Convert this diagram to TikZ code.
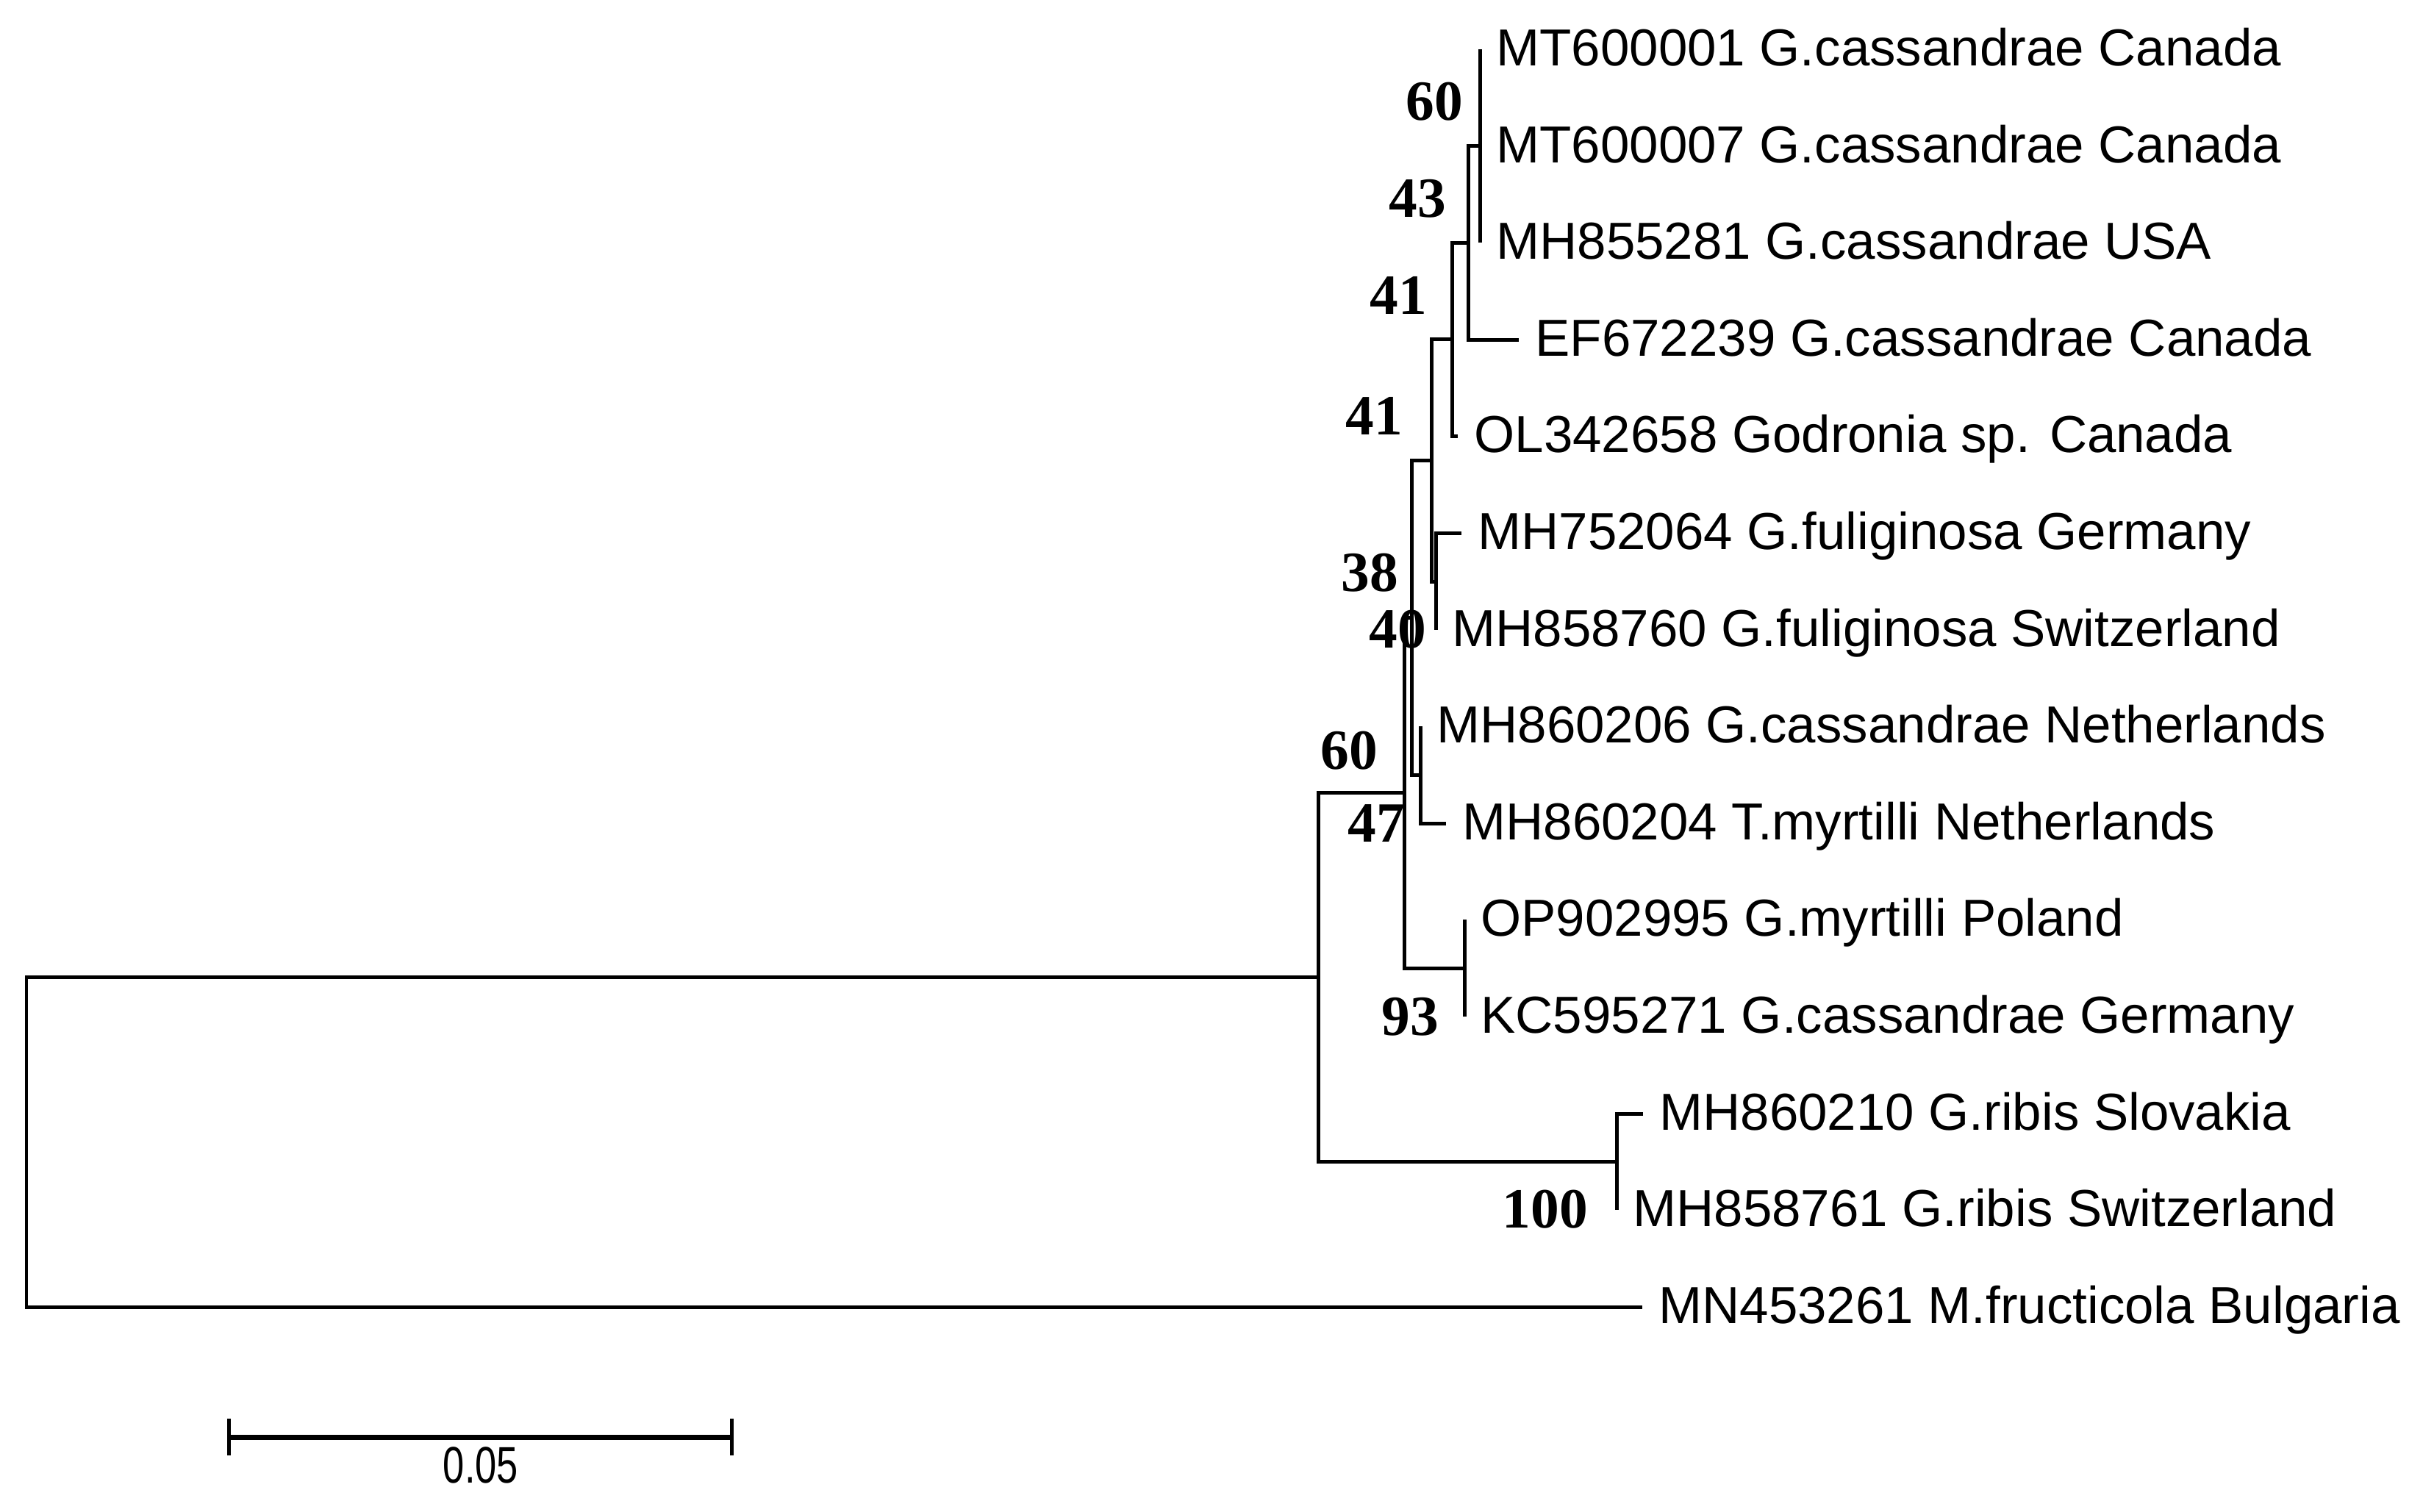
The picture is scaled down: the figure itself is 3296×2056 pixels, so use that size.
\documentclass[tikz,border=0pt]{standalone}
\usepackage{fontspec}
\setmainfont{Liberation Sans}
\newfontfamily\bsfont{Liberation Serif}
\begin{document}
\begin{tikzpicture}[x=0.01cm,y=-0.01cm,line width=1.42pt,line join=miter,
  lab/.style={anchor=base west,inner sep=0pt,xshift=0.2cm,yshift=-0.22cm,
    font=\fontsize{20.15pt}{24pt}\selectfont},
  boot/.style={anchor=center,inner sep=0pt,
    font=\bsfont\bfseries\fontsize{22pt}{26pt}\selectfont}]
\useasboundingbox (0,0) rectangle (3296,2056);
% leaves
\coordinate (L1) at (2013,67);
\coordinate (L2) at (2013,199);
\coordinate (L3) at (2013,330);
\coordinate (L4) at (2066,462);
\coordinate (L5) at (1983,593);
\coordinate (L6) at (1988,725);
\coordinate (L7) at (1953,857);
\coordinate (L8) at (1932,988);
\coordinate (L9) at (1967,1120);
\coordinate (L10) at (1992,1251);
\coordinate (L11) at (1992,1383);
\coordinate (L12) at (2235,1515);
\coordinate (L13) at (2199,1646);
\coordinate (L14) at (2234,1778);
% internal nodes
\coordinate (A) at (2013,198.5);
\coordinate (B) at (1997,330.25);
\coordinate (C) at (1975,461.6);
\coordinate (F) at (1953,791);
\coordinate (D) at (1947,626.3);
\coordinate (G) at (1932,1054);
\coordinate (E) at (1920,840);
\coordinate (I) at (1992,1317);
\coordinate (H) at (1910,1078.5);
\coordinate (K) at (2199,1580.5);
\coordinate (J) at (1793,1329.5);
\coordinate (R) at (36,1553.5);
% branches
\draw (L1) -- (L3);
\draw (A) -| (B) |- (L4);
\draw (B) -| (C) |- (L5);
\draw (L6) -| (F) |- (L7);
\draw (C) -| (D) |- (F);
\draw (L8) -| (G) |- (L9);
\draw (D) -| (E) |- (G);
\draw (L10) -| (I) |- (L11);
\draw (E) -| (H) |- (I);
\draw (L12) -| (K) |- (L13);
\draw (H) -| (J) |- (K);
\draw (J) -| (R) |- (L14);
% taxon labels
\node[lab] (t1) at (L1) {MT600001 G.cassandrae Canada};
\node[lab] (t2) at (L2) {MT600007 G.cassandrae Canada};
\node[lab] (t3) at (L3) {MH855281 G.cassandrae USA};
\node[lab] (t4) at (L4) {EF672239 G.cassandrae Canada};
\node[lab] (t5) at (L5) {OL342658 Godronia sp. Canada};
\node[lab] (t6) at (L6) {MH752064 G.fuliginosa Germany};
\node[lab] (t7) at (L7) {MH858760 G.fuliginosa Switzerland};
\node[lab] (t8) at (L8) {MH860206 G.cassandrae Netherlands};
\node[lab] (t9) at (L9) {MH860204 T.myrtilli Netherlands};
\node[lab] (t10) at (L10) {OP902995 G.myrtilli Poland};
\node[lab] (t11) at (L11) {KC595271 G.cassandrae Germany};
\node[lab] (t12) at (L12) {MH860210 G.ribis Slovakia};
\node[lab] (t13) at (L13) {MH858761 G.ribis Switzerland};
\node[lab] (t14) at (L14) {MN453261 M.fructicola Bulgaria};
% bootstrap values
\node[boot] (b1) at (1951,138) {60};
\node[boot] (b2) at (1928,270) {43};
\node[boot] (b3) at (1902,402) {41};
\node[boot] (b4) at (1869,566) {41};
\node[boot] (b5) at (1863,779) {38};
\node[boot] (b6) at (1901,856) {40};
\node[boot] (b7) at (1835,1021) {60};
\node[boot] (b8) at (1872,1120) {47};
\node[boot] (b9) at (1918,1383) {93};
\node[boot] (b10) at (2102,1645) {100};
% scale bar
\coordinate (sbL) at (311,1955);
\coordinate (sbR) at (995,1955);
\draw[line width=2pt] (sbL) -- (sbR);
\draw ([yshift=0.25cm]sbL) -- ([yshift=-0.25cm]sbL);
\draw ([yshift=0.25cm]sbR) -- ([yshift=-0.25cm]sbR);
\node[anchor=center,inner sep=0pt,font=\fontsize{19.9pt}{24pt}\selectfont] (sblab) at (654,1993) {\scalebox{0.75}[1]{0.05}};
\end{tikzpicture}
\end{document}
